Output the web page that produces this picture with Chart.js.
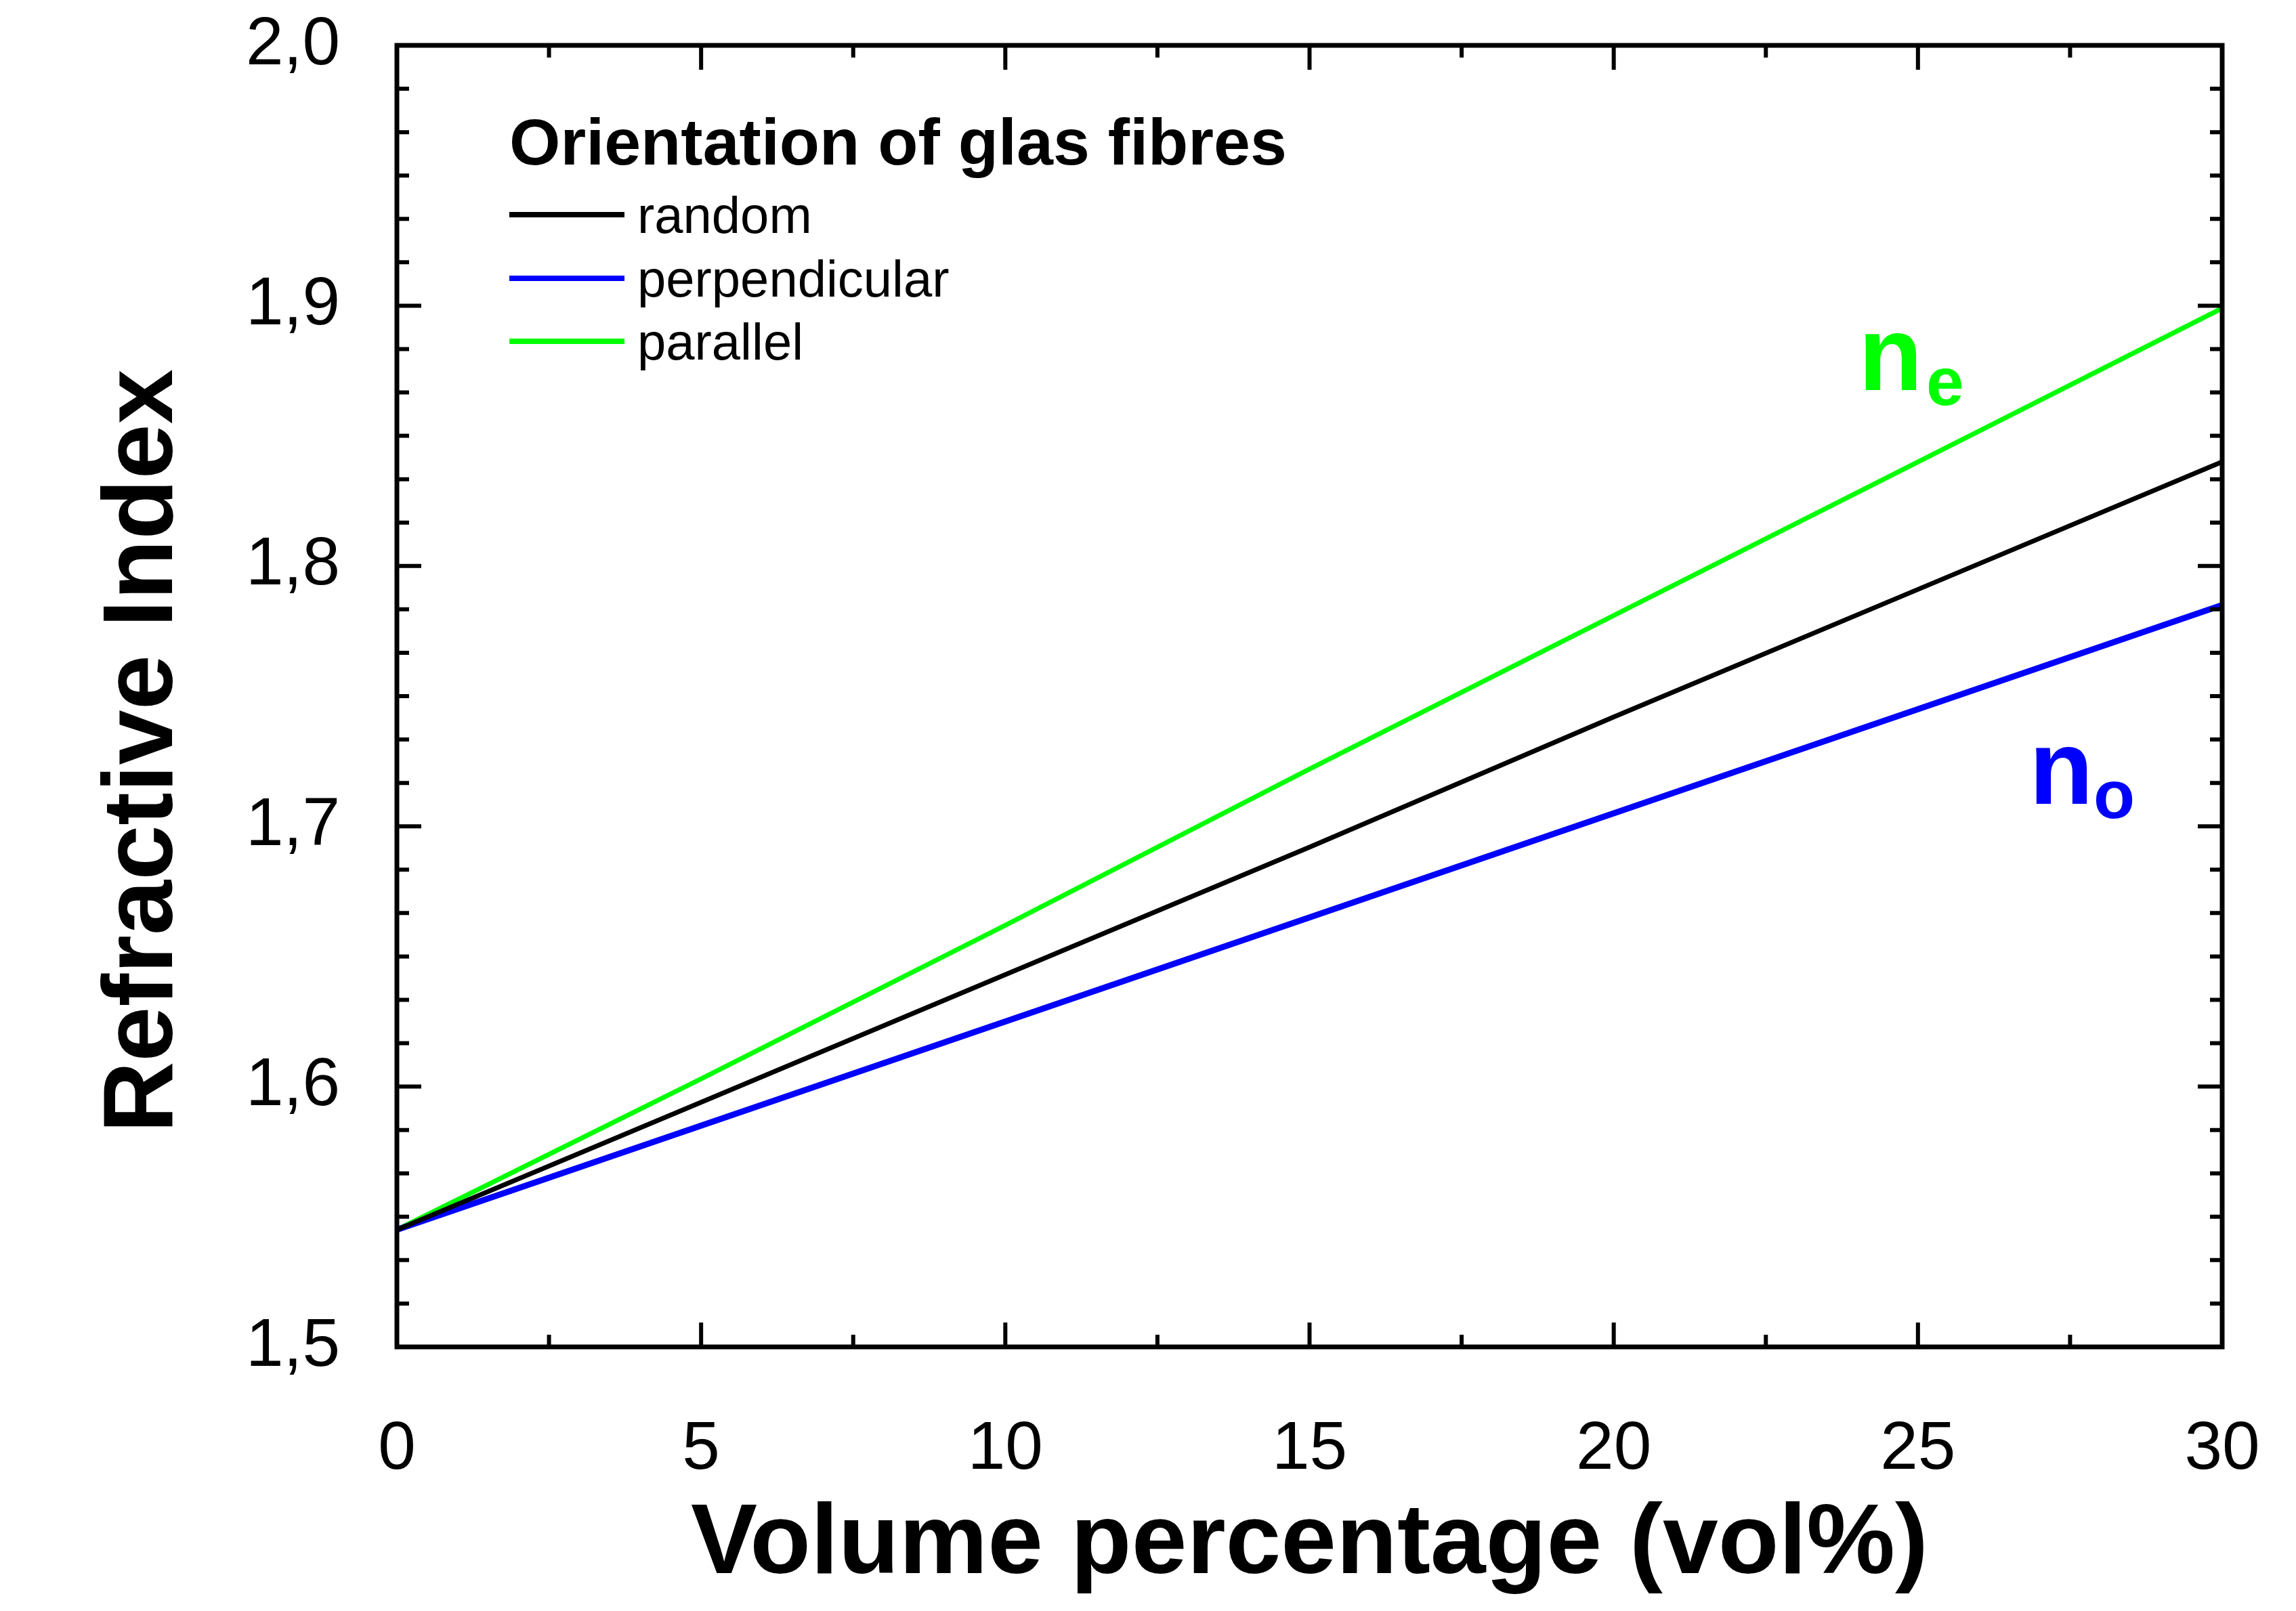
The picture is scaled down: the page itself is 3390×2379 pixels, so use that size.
<!DOCTYPE html>
<html>
<head>
<meta charset="utf-8">
<script src="https://cdn.jsdelivr.net/npm/chart.js@4"></script>
<style>
  html, body { margin: 0; padding: 0; background: #fff; }
  #wrap { width: 3390px; height: 2379px; }
</style>
</head>
<body>
<div id="wrap"><canvas id="chart" width="3390" height="2379"></canvas></div>
<script>
// values
const volPercent = [0, 5, 10, 15, 20, 25, 30];
const nRandom = [1.545, 1.594, 1.643, 1.692, 1.742, 1.791, 1.840];
const nPerpendicular = [1.545, 1.585, 1.625, 1.665, 1.705, 1.745, 1.785];
const nParallel = [1.545, 1.603, 1.662, 1.722, 1.781, 1.840, 1.899];
const seriesNames = ["random", "perpendicular", "parallel"];
const seriesColors = ["#000000", "#0000ff", "#00ff00"];
const legendTitle = "Orientation of glas fibres";
const xTitle = "Volume percentage (vol%)";
const yTitle = "Refractive Index";

const FONT = "'Liberation Sans', Arial, sans-serif";

function pts(ys) {
  return volPercent.map((x, i) => ({ x: x, y: ys[i] }));
}

// frame + inward ticks on all four sides
const frameTicks = {
  id: "frameTicks",
  afterDraw(chart) {
    const ctx = chart.ctx;
    const a = chart.chartArea;
    const xs = chart.scales.x, ys = chart.scales.y;
    ctx.save();
    ctx.strokeStyle = "#000";
    ctx.lineWidth = 6;
    ctx.lineCap = "butt";
    // x ticks, major every 5, minor at 2.5
    for (let v = 0; v <= 30.001; v += 2.5) {
      const px = xs.getPixelForValue(v);
      const len = Math.abs(v % 5) < 0.001 ? 36 : 18;
      ctx.beginPath();
      ctx.moveTo(px, a.bottom); ctx.lineTo(px, a.bottom - len);
      ctx.moveTo(px, a.top); ctx.lineTo(px, a.top + len);
      ctx.stroke();
    }
    // y ticks, major every 0.1, 5 minor between
    for (let k = 0; k <= 30; k++) {
      const v = 1.5 + k / 60;
      const py = ys.getPixelForValue(v);
      const len = k % 6 === 0 ? 36 : 18;
      ctx.beginPath();
      ctx.moveTo(a.left, py); ctx.lineTo(a.left + len, py);
      ctx.moveTo(a.right, py); ctx.lineTo(a.right - len, py);
      ctx.stroke();
    }
    ctx.lineWidth = 7;
    ctx.strokeRect(a.left, a.top, a.right - a.left, a.bottom - a.top);
    ctx.restore();
  }
};

// legend box and n_e / n_o labels
const labels = {
  id: "labels",
  afterDatasetsDraw(chart) {
    const ctx = chart.ctx;
    ctx.save();
    ctx.fillStyle = "#000";
    ctx.textBaseline = "alphabetic";
    ctx.font = "bold 97px " + FONT;
    ctx.fillText(legendTitle, 752, 243);
    const rows = [317, 411, 504];
    ctx.font = "76px " + FONT;
    seriesNames.forEach((name, i) => {
      ctx.strokeStyle = seriesColors[i];
      ctx.lineWidth = 8;
      ctx.beginPath();
      ctx.moveTo(752, rows[i]); ctx.lineTo(922, rows[i]);
      ctx.stroke();
      ctx.fillStyle = "#000";
      ctx.fillText(name, 941, rows[i] + 27);
    });
    // n_e
    ctx.fillStyle = "#00ff00";
    ctx.font = "bold 155px " + FONT;
    ctx.fillText("n", 2744, 576);
    ctx.font = "bold 100px " + FONT;
    ctx.fillText("e", 2844, 598);
    // n_o
    ctx.fillStyle = "#0000ff";
    ctx.font = "bold 155px " + FONT;
    ctx.fillText("n", 2996, 1187);
    ctx.font = "bold 100px " + FONT;
    ctx.fillText("o", 3091, 1208);
    ctx.restore();
  }
};

const datasets = [nRandom, nPerpendicular, nParallel].map((ys, i) => ({
  label: seriesNames[i],
  data: pts(ys),
  borderColor: seriesColors[i],
  borderWidth: i === 1 ? 9 : 7,
  pointRadius: 0,
  fill: false,
  tension: 0
}));

new Chart(document.getElementById("chart"), {
  type: "line",
  data: { datasets: datasets },
  options: {
    responsive: false,
    devicePixelRatio: 1,
    animation: false,
    layout: { padding: { left: 0, right: 109, top: 67, bottom: 0 } },
    plugins: { legend: { display: false }, tooltip: { enabled: false } },
    scales: {
      x: {
        type: "linear",
        min: 0, max: 30,
        grid: { display: false, drawTicks: false },
        border: { display: false },
        ticks: {
          stepSize: 5,
          padding: 92,
          color: "#000",
          font: { family: FONT, size: 100 }
        },
        title: {
          display: true,
          text: xTitle,
          color: "#000",
          font: { family: FONT, size: 147, weight: "bold" },
          padding: { top: 0, bottom: 8 }
        },
        afterFit(s) {
          s.height = 390;
          s.paddingLeft = 0; s.paddingRight = 0;
        }
      },
      y: {
        type: "linear",
        min: 1.5, max: 2.0,
        grid: { display: false, drawTicks: false },
        border: { display: false },
        ticks: {
          stepSize: 0.1,
          padding: 84,
          color: "#000",
          font: { family: FONT, size: 100 },
          callback: v => v.toFixed(1).replace(".", ",")
        },
        title: {
          display: true,
          text: yTitle + "    ",
          color: "#000",
          font: { family: FONT, size: 146, weight: "bold" },
          padding: { top: 126, bottom: 0 }
        },
        afterFit(s) {
          s.width = 586;
          s.paddingTop = 0; s.paddingBottom = 0;
        }
      }
    }
  },
  plugins: [frameTicks, labels]
});
</script>
</body>
</html>
